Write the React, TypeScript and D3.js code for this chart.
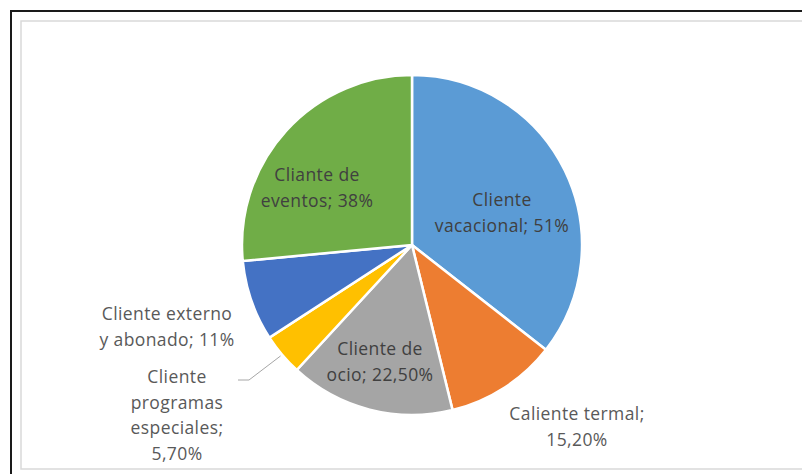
import React from "react";
import * as d3 from "d3";

const categories = [
  "Cliente vacacional",
  "Caliente termal",
  "Cliente de ocio",
  "Cliente programas especiales",
  "Cliente externo y abonado",
  "Cliante de eventos",
];
const values = [51, 15.2, 22.5, 5.7, 11, 38];
const valueLabels = ["51%", "15,20%", "22,50%", "5,70%", "11%", "38%"];
const colors = ["#5b9bd5", "#ed7d31", "#a5a5a5", "#ffc000", "#4472c4", "#70ad47"];

// label text lines (as drawn in the reference)
const labelLines = [
  ["Cliente", "vacacional; 51%"],
  ["Caliente termal;", "15,20%"],
  ["Cliente de", "ocio; 22,50%"],
  ["Cliente", "programas", "especiales;", "5,70%"],
  ["Cliente externo", "y abonado; 11%"],
  ["Cliante de", "eventos; 38%"],
];

// layout: label anchor (center x, first baseline y) relative to pie center
const labelAnchors: [number, number][] = [
  [90, -39],
  [165, 175],
  [-32, 110],
  [-235, 138],
  [-245, 75],
  [-95, -64],
];
const insideLabel = [true, false, true, false, false, true];

const W = 802;
const H = 474;
const cx = 412;
const cy = 245;
const R = 170;
const lineH = 25.6;

export default function App() {
  const pie = d3
    .pie<number>()
    .sort(null)
    .value((d) => d)
    .startAngle(0)
    .endAngle(2 * Math.PI);
  const arcs = pie(values);
  const arc = d3.arc<d3.PieArcDatum<number>>().innerRadius(0).outerRadius(R);
  const edgeArc = d3
    .arc<d3.PieArcDatum<number>>()
    .innerRadius(R + 2)
    .outerRadius(R + 2);

  // leader line for the small yellow slice
  const leaderIdx = 3;
  const p0 = edgeArc.centroid(arcs[leaderIdx]);
  const la = labelAnchors[leaderIdx];
  const p2: [number, number] = [la[0] + 61, la[1] - 3];
  const p1: [number, number] = [p2[0] + 11, p2[1]];
  const leader = d3.line()([p0 as [number, number], p1, p2]);

  return (
    <svg
      width={W}
      height={H}
      style={{ position: "absolute", left: 0, top: 0, display: "block" }}
      fontFamily="'Open Sans', sans-serif"
    >
      <rect x={0} y={0} width={W} height={H} fill="#ffffff" />
      <rect x={11} y={11} width={W + 20} height={H + 20} fill="none" stroke="#1a1a1a" strokeWidth={2} />
      <rect x={21} y={21} width={W + 20} height={448} fill="none" stroke="#d9d9d9" strokeWidth={1.5} />
      <g transform={`translate(${cx},${cy})`}>
        {arcs.map((a, i) => (
          <path key={categories[i]} d={arc(a) || ""} fill={colors[i]} stroke="#ffffff" strokeWidth={2.5} />
        ))}
        <path d={leader || ""} fill="none" stroke="#a6a6a6" strokeWidth={1} />
        {labelLines.map((lines, i) => (
          <text
            key={"l" + i}
            textAnchor="middle"
            fontSize={17.5}
            fill={insideLabel[i] ? "#404040" : "#595959"}
            letterSpacing={0.4}
          >
            {lines.map((t, j) => (
              <tspan key={j} x={labelAnchors[i][0]} y={labelAnchors[i][1] + j * lineH}>
                {t}
              </tspan>
            ))}
          </text>
        ))}
      </g>
    </svg>
  );
}
